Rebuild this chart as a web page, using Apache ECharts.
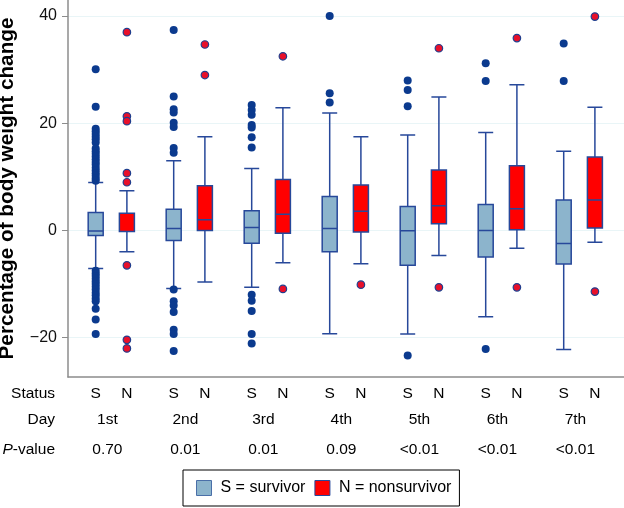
<!DOCTYPE html>
<html><head><meta charset="utf-8">
<script src="https://cdn.jsdelivr.net/npm/echarts@6/dist/echarts.min.js"></script>
<style>html,body{margin:0;padding:0;background:#fff}#c{width:624px;height:508px}</style>
</head><body><div id="c"></div>
<script>
// ---- data ----
const days = ['1st', '2nd', '3rd', '4th', '5th', '6th', '7th'];
const pValues = ['0.70', '0.01', '0.01', '0.09', '<0.01', '<0.01', '<0.01'];
const statusLabels = ['S', 'N'];
const yTicks = [-20, 0, 20, 40];
const yTitle = 'Percentage of body weight change';
// [min, Q1, median, Q3, max]
const survivorBox = [
  [-7.1, -0.93, -0.1, 3.36, 8.95],
  [-10.8, -1.86, 0.37, 3.98, 13.0],
  [-10.6, -2.4, 0.56, 3.67, 11.56],
  [-19.25, -3.97, 0.37, 6.34, 21.9],
  [-19.3, -6.5, -0.06, 4.47, 17.8],
  [-16.1, -4.96, 0.0, 4.85, 18.3],
  [-22.2, -6.27, -2.42, 5.67, 14.8]
];
const nonsurvivorBox = [
  [-3.97, -0.2, -0.2, 3.24, 7.4],
  [-9.6, 0.0, 2.0, 8.33, 17.5],
  [-6.0, -0.5, 3.05, 9.5, 22.9],
  [-6.2, -0.3, 3.6, 8.5, 17.5],
  [-4.66, 1.25, 4.6, 11.3, 24.9],
  [-3.3, 0.13, 4.05, 12.1, 27.2],
  [-2.2, 0.45, 5.67, 13.7, 23.0]
];
const survivorOutliers = [
  [30.1, 23.1, 19.0, 18.5, 18.0, 17.5, 17.0, 16.4, 15.3, 14.8, 14.3, 13.8, 13.3, 12.8, 12.3, 11.7, 11.2, 10.7, 10.2, 9.7, 9.3,
   -7.5, -8.0, -8.5, -9.0, -9.5, -10.0, -10.5, -11.0, -11.6, -12.1, -12.7, -13.2, -14.6, -16.6, -19.3],
  [37.4, 25.0, 22.6, 22.0, 20.1, 19.3, 15.4, 14.5, -11.0, -13.2, -14.0, -15.2, -18.5, -19.3, -22.5],
  [23.4, 22.5, 21.6, 19.7, 19.2, 17.4, 15.5, -12.0, -13.1, -15.0, -19.3, -21.1],
  [40.0, 25.6, 23.9],
  [28.0, 26.2, 23.2, -23.3],
  [31.2, 27.9, -22.1],
  [34.9, 27.9]
];
const nonsurvivorOutliers = [
  [37.0, 21.3, 20.4, 10.7, 9.0, -6.5, -20.4, -22.0],
  [34.7, 29.0],
  [32.5, -10.9],
  [-10.1],
  [34.0, -10.6],
  [35.9, -10.6],
  [39.9, -11.4]
];

// ---- layout helpers ----
const GROUP_OFFSET = 0.2;
const sPos = i => i + 1 - GROUP_OFFSET;
const nPos = i => i + 1 + GROUP_OFFSET;

const FONT = '"Liberation Sans", Arial, sans-serif';
const BORDER = '#27489a';
const S_FILL = '#8cb4cc';
const N_FILL = '#ff0000';

// fit the bold y title to the reference length (~342px)
const mctx = document.createElement('canvas').getContext('2d');
mctx.font = 'bold 20px "Liberation Sans"';
const titleSize = Math.min(22, 20 * 342 / mctx.measureText(yTitle).width);

const chart = echarts.init(document.getElementById('c'), null, {renderer: 'canvas'});

const xAxisBase = {
  type: 'value', min: 0.445, max: 7.573,
  axisLabel: {show: false}, axisTick: {show: false}, splitLine: {show: false}
};

const option = {
  animation: false,
  backgroundColor: '#fff',
  grid: {left: 68, right: 0, top: 0, bottom: 131, containLabel: false, outerBoundsMode: 'none'},
  xAxis: [
    Object.assign({}, xAxisBase, {axisLine: {show: true, onZero: false, lineStyle: {color: '#8c8c8c', width: 1.5}}}),
    Object.assign({}, xAxisBase, {show: false})
  ],
  yAxis: {
    type: 'value', min: -27.33, max: 43.0,
    name: yTitle,
    nameLocation: 'middle', nameRotate: 90, nameGap: 50,
    nameTextStyle: {fontFamily: FONT, fontWeight: 'bold', fontSize: titleSize, color: '#000'},
    axisLine: {show: true, lineStyle: {color: '#8c8c8c', width: 1.5}},
    axisTick: {show: true, length: 6, customValues: yTicks, lineStyle: {color: '#8c8c8c'}},
    axisLabel: {customValues: yTicks, fontFamily: FONT, fontSize: 16, color: '#111', margin: 11,
      formatter: v => (v < 0 ? '\u2212' + Math.abs(v) : String(v))},
    splitLine: {show: true, lineStyle: {color: '#e9f5f7', width: 1}}
  },
  legend: {
    left: 183, top: 470,
    data: [
      {name: 'S = survivor', itemStyle: {color: S_FILL, borderColor: '#4a6fa8', borderWidth: 1}},
      {name: 'N = nonsurvivor', itemStyle: {color: N_FILL, borderColor: BORDER, borderWidth: 1}}
    ],
    icon: 'rect', itemWidth: 15, itemHeight: 15, itemGap: 9,
    padding: [10, 8, 10, 13],
    borderColor: '#000', borderWidth: 1, backgroundColor: '#fff',
    textStyle: {fontFamily: FONT, fontSize: 16, color: '#000', padding: [0, 0, 0, 4]}
  },
  series: [
    {
      name: 'S = survivor', type: 'boxplot', xAxisIndex: 0, yAxisIndex: 0,
      boxWidth: [15, 15],
      itemStyle: {color: S_FILL, borderColor: BORDER, borderWidth: 1.5},
      data: survivorBox.map((b, i) => [sPos(i)].concat(b))
    },
    {
      name: 'N = nonsurvivor', type: 'boxplot', xAxisIndex: 1, yAxisIndex: 0,
      boxWidth: [15, 15],
      itemStyle: {color: N_FILL, borderColor: BORDER, borderWidth: 1.5},
      data: nonsurvivorBox.map((b, i) => [nPos(i)].concat(b))
    },
    {
      name: 'S outliers', type: 'scatter', xAxisIndex: 0, yAxisIndex: 0,
      symbolSize: 8, itemStyle: {color: '#0b3a8e', opacity: 1},
      data: survivorOutliers.flatMap((arr, i) => arr.map(v => [sPos(i), v]))
    },
    {
      name: 'N outliers', type: 'scatter', xAxisIndex: 0, yAxisIndex: 0,
      symbolSize: 7.5, itemStyle: {color: '#e8102a', borderColor: '#1f3f8f', borderWidth: 1.2, opacity: 1},
      data: nonsurvivorOutliers.flatMap((arr, i) => arr.map(v => [nPos(i), v]))
    }
  ]
};
chart.setOption(option);

// ---- table under the plot ----
const ROW_Y = {status: 394, day: 420, p: 450};
const LABEL_X = 55;
const TFS = 15.5;
const txt = (x, y, text, align, extra) => ({
  type: 'text', x: x, y: y, silent: true,
  style: Object.assign({text: text, fontFamily: FONT, fontSize: TFS, fill: '#000',
    align: align || 'center', verticalAlign: 'middle'}, extra || {})
});
const px = v => chart.convertToPixel({xAxisIndex: 0}, v);
const graphics = [
  txt(LABEL_X, ROW_Y.status, 'Status', 'right'),
  txt(LABEL_X, ROW_Y.day, 'Day', 'right'),
  txt(LABEL_X, ROW_Y.p, '{i|P}-value', 'right', {rich: {i: {fontStyle: 'italic', fontFamily: FONT, fontSize: TFS, fill: '#000'}}})
];
days.forEach((d, i) => {
  graphics.push(txt(px(sPos(i)), ROW_Y.status, statusLabels[0]));
  graphics.push(txt(px(nPos(i)), ROW_Y.status, statusLabels[1]));
  graphics.push(txt(px(i + 1 - 0.05), ROW_Y.day, d));
  graphics.push(txt(px(i + 1 - 0.05), ROW_Y.p, pValues[i]));
});
chart.setOption({graphic: graphics});
</script></body></html>
